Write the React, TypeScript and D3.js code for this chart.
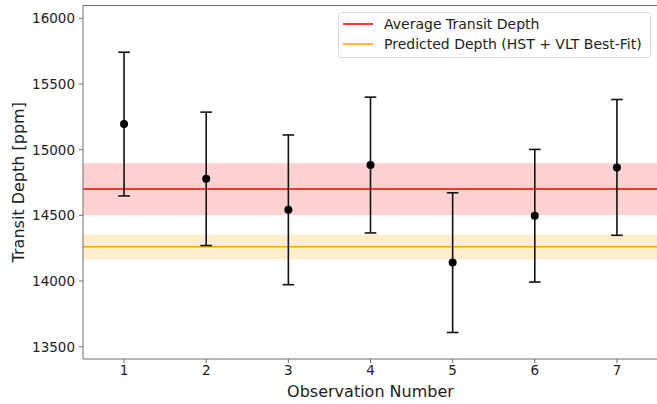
import React, { useEffect, useRef } from "react";
import * as d3 from "d3";

const observations = [1, 2, 3, 4, 5, 6, 7];
const depths = [15195, 14778, 14542, 14883, 14140, 14497, 14865];
const errors = [547, 508, 570, 517, 532, 505, 517];
const xTicks = [1, 2, 3, 4, 5, 6, 7];
const yTicks = [13500, 14000, 14500, 15000, 15500, 16000];
const averageDepth = 14700;
const averageErr = 198;
const predictedDepth = 14260;
const predictedErr = 95;
const legendLabels = ["Average Transit Depth", "Predicted Depth (HST + VLT Best-Fit)"];

const W = 657;
const H = 404;
const M = { left: 83, right: 0, top: 5.5, bottom: 359 };
const FONT = "DejaVu Sans, sans-serif";

export default function App() {
  const ref = useRef<SVGSVGElement>(null);
  useEffect(() => {
    const svg = d3.select(ref.current);
    svg.selectAll("*").remove();
    const x = d3.scaleLinear().domain([0.5, 7.5]).range([M.left, 658]);
    const y = d3.scaleLinear().domain([13406, 16098]).range([M.bottom, M.top]);
    const x0 = M.left, x1 = 658;

    // bands
    svg.append("rect").attr("x", x0).attr("width", x1 - x0)
      .attr("y", y(averageDepth + averageErr)).attr("height", y(averageDepth - averageErr) - y(averageDepth + averageErr))
      .attr("fill", "#ff0000").attr("fill-opacity", 0.18);
    svg.append("rect").attr("x", x0).attr("width", x1 - x0)
      .attr("y", y(predictedDepth + predictedErr)).attr("height", y(predictedDepth - predictedErr) - y(predictedDepth + predictedErr))
      .attr("fill", "#ffa500").attr("fill-opacity", 0.2);
    svg.append("line").attr("x1", x0).attr("x2", x1).attr("y1", y(averageDepth)).attr("y2", y(averageDepth))
      .attr("stroke", "#ff0000").attr("stroke-width", 1.5);
    svg.append("line").attr("x1", x0).attr("x2", x1).attr("y1", y(predictedDepth)).attr("y2", y(predictedDepth))
      .attr("stroke", "#ffa500").attr("stroke-width", 1.5);

    // error bars
    const g = svg.append("g");
    observations.forEach((o, i) => {
      const cx = x(o);
      const top = y(depths[i] + errors[i]);
      const bot = y(depths[i] - errors[i]);
      g.append("line").attr("x1", cx).attr("x2", cx).attr("y1", top).attr("y2", bot)
        .attr("stroke", "#111").attr("stroke-width", 1.6);
      [top, bot].forEach((yy) => {
        g.append("line").attr("x1", cx - 5.8).attr("x2", cx + 5.8).attr("y1", yy).attr("y2", yy)
          .attr("stroke", "#111").attr("stroke-width", 1.6);
      });
      g.append("circle").attr("cx", cx).attr("cy", y(depths[i])).attr("r", 4).attr("fill", "#000");
    });

    // spines
    const spine = "#6e6e6e";
    svg.append("line").attr("x1", x0).attr("x2", x0).attr("y1", M.top).attr("y2", M.bottom).attr("stroke", spine).attr("stroke-width", 1);
    svg.append("line").attr("x1", x0).attr("x2", 658).attr("y1", M.bottom).attr("y2", M.bottom).attr("stroke", spine).attr("stroke-width", 1.2);
    svg.append("line").attr("x1", x0).attr("x2", 658).attr("y1", M.top).attr("y2", M.top).attr("stroke", spine).attr("stroke-width", 1);

    // y ticks
    yTicks.forEach((t) => {
      const yy = y(t);
      svg.append("line").attr("x1", x0 - 4).attr("x2", x0).attr("y1", yy).attr("y2", yy).attr("stroke", spine);
      svg.append("text").attr("x", x0 - 8).attr("y", yy).attr("dy", "0.36em").attr("text-anchor", "end")
        .attr("font-family", FONT).attr("font-size", 13.5).attr("fill", "#222").text(String(t));
    });
    xTicks.forEach((t) => {
      const xx = x(t);
      svg.append("line").attr("x1", xx).attr("x2", xx).attr("y1", M.bottom).attr("y2", M.bottom + 4).attr("stroke", spine);
      svg.append("text").attr("x", xx).attr("y", 375).attr("text-anchor", "middle")
        .attr("font-family", FONT).attr("font-size", 13.5).attr("fill", "#222").text(String(t));
    });

    svg.append("text").attr("x", (x0 + 658) / 2 + 0).attr("y", 397).attr("text-anchor", "middle")
      .attr("font-family", FONT).attr("font-size", 16).attr("fill", "#222").text("Observation Number");
    svg.append("text").attr("transform", `translate(24, ${(M.top + M.bottom) / 2}) rotate(-90)`)
      .attr("text-anchor", "middle").attr("font-family", FONT).attr("font-size", 16).attr("fill", "#222")
      .text("Transit Depth [ppm]");

    // legend
    const lg = svg.append("g");
    lg.append("rect").attr("x", 338.5).attr("y", 12.5).attr("width", 312).attr("height", 45).attr("rx", 3)
      .attr("fill", "#fff").attr("fill-opacity", 0.85).attr("stroke", "#dcdcdc");
    const colors = ["#ff0000", "#ffa500"];
    legendLabels.forEach((l, i) => {
      const yy = 24 + i * 20;
      lg.append("line").attr("x1", 343).attr("x2", 373).attr("y1", yy).attr("y2", yy).attr("stroke", colors[i]).attr("stroke-width", 1.6);
      lg.append("text").attr("x", 384).attr("y", yy).attr("dy", "0.36em").attr("font-family", FONT)
        .attr("font-size", 14).attr("fill", "#222").text(l);
    });
  }, []);
  return (
    <div style={{ position: "fixed", left: 0, top: 0 }}>
      <svg ref={ref} width={W} height={H} style={{ display: "block", background: "#fff" }} />
    </div>
  );
}
